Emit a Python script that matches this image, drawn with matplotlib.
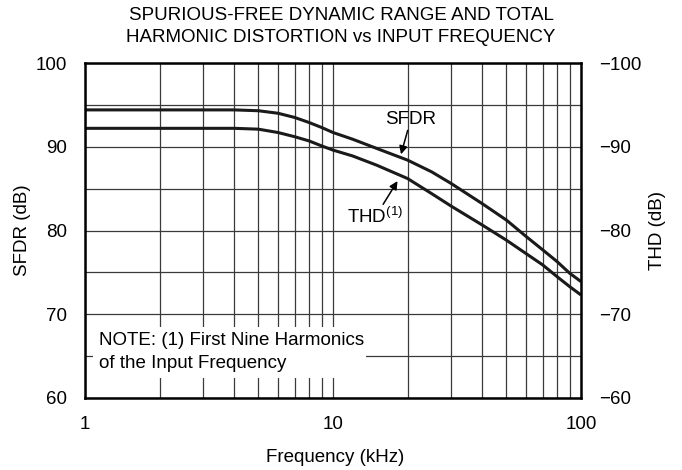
import matplotlib
matplotlib.use("Agg")
import matplotlib.pyplot as plt
from matplotlib.patches import Rectangle
import numpy as np

plt.rcParams['font.family'] = ['Liberation Sans', 'DejaVu Sans']
plt.rcParams['mathtext.fontset'] = 'custom'
plt.rcParams['mathtext.rm'] = 'Liberation Sans'
plt.rcParams['mathtext.it'] = 'Liberation Sans'
plt.rcParams['mathtext.bf'] = 'Liberation Sans:bold'

freq_khz = [1, 2, 3, 4, 5, 6, 7, 8, 9, 10, 12, 15, 20, 25, 30, 40, 50, 60, 70, 80, 90, 100]
sfdr_db = [94.4, 94.4, 94.4, 94.4, 94.3, 94.0, 93.5, 92.9, 92.3, 91.7, 90.9, 89.8, 88.4,
           87.0, 85.6, 83.2, 81.25, 79.3, 77.7, 76.3, 74.9, 73.9]
thd_db = [92.2, 92.2, 92.2, 92.2, 92.1, 91.7, 91.2, 90.7, 90.1, 89.6, 88.9, 87.8, 86.2,
          84.4, 82.9, 80.65, 78.85, 77.25, 75.9, 74.5, 73.3, 72.3]

left_ticks = [60, 70, 80, 90, 100]
right_ticks = [-60, -70, -80, -90, -100]
x_ticks = [1, 10, 100]

FS = 13.5
W, H = 682, 470
fig = plt.figure(figsize=(W / 100, H / 100), dpi=100)
ax = fig.add_axes([85 / W, 1 - 398 / H, (581 - 85) / W, (398 - 63) / H])

ax.set_xscale('log')
ax.set_xlim(1, 100)
ax.set_ylim(60, 100)
ax.set_axisbelow(True)

ax.set_xticks(x_ticks)
ax.set_xticklabels([str(t) for t in x_ticks])
ax.xaxis.set_minor_locator(matplotlib.ticker.LogLocator(base=10, subs=np.arange(2, 10)))
ax.xaxis.set_minor_formatter(matplotlib.ticker.NullFormatter())
ax.set_yticks(left_ticks)
ax.yaxis.set_minor_locator(matplotlib.ticker.MultipleLocator(5))

ax.grid(True, which='both', color='#3a3a3a', linewidth=0.9)
ax.tick_params(which='both', length=0)
ax.tick_params(axis='y', pad=13, labelsize=FS)
ax.tick_params(axis='x', pad=13, labelsize=FS)

for s in ax.spines.values():
    s.set_linewidth(1.8)
    s.set_color('black')

# note box covering grid
ax.add_patch(Rectangle((1.077, 62.4), 13.6 - 1.077, 68.5 - 62.4, facecolor='white',
                       edgecolor='none', zorder=1))
ax.text(1.139, 100 - (341 - 63) / 8.375, 'NOTE: (1) First Nine Harmonics', fontsize=FS,
        va='center', ha='left', zorder=3)
ax.text(1.139, 100 - (364 - 63) / 8.375, 'of the Input Frequency', fontsize=FS,
        va='center', ha='left', zorder=3)

ax.plot(freq_khz, sfdr_db, color='#1a1a1a', linewidth=2.2, zorder=2, solid_capstyle='butt')
ax.plot(freq_khz, thd_db, color='#1a1a1a', linewidth=2.2, zorder=2, solid_capstyle='butt')

arrow = dict(arrowstyle='-|>', color='black', lw=1.1, mutation_scale=12, shrinkA=0, shrinkB=0)
ax.annotate('SFDR', xy=(18.8, 89.1), xytext=(20.6, 93.3), fontsize=FS,
            ha='center', va='center', arrowprops=arrow)
ax.annotate('THD$^{(1)}$', xy=(18.2, 85.9), xytext=(14.8, 81.6), fontsize=FS,
            ha='center', va='center', arrowprops=arrow)

ax.set_xlabel('Frequency (kHz)', fontsize=FS)
ax.xaxis.set_label_coords((335 - 85) / (581 - 85), -(458 - 398) / (398 - 63))
ax.xaxis.label.set_va('center')
ax.set_ylabel('SFDR (dB)', fontsize=FS)
ax.yaxis.set_label_coords(-(85 - 23) / (581 - 85), 0.5)
ax.yaxis.label.set_va('center')

ax2 = ax.twinx()
ax2.set_ylim(-60, -100)
ax2.set_yticks(right_ticks)
ax2.tick_params(length=0, pad=13, labelsize=FS)
for s in ax2.spines.values():
    s.set_visible(False)
ax2.set_ylabel('THD (dB)', fontsize=FS)
ax2.yaxis.set_label_coords(1 + (657 - 581) / (581 - 85), 0.5)
ax2.yaxis.label.set_va('center')

fig.text(341 / W, 1 - 15 / H, 'SPURIOUS-FREE DYNAMIC RANGE AND TOTAL', fontsize=FS,
         ha='center', va='center')
fig.text(341 / W, 1 - 38 / H, 'HARMONIC DISTORTION vs INPUT FREQUENCY', fontsize=FS,
         ha='center', va='center')

fig.savefig('out.png', dpi=100)
